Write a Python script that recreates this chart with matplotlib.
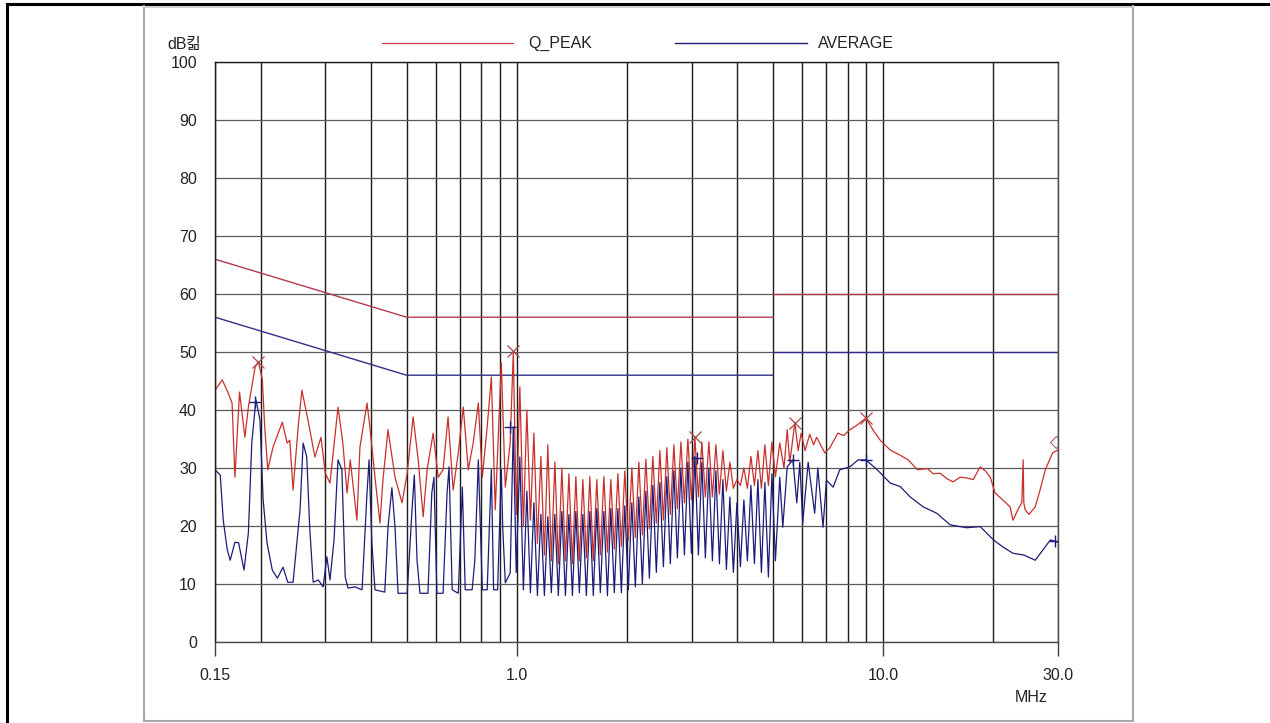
import matplotlib
matplotlib.use('Agg')
import matplotlib.pyplot as plt
from matplotlib.lines import Line2D
from matplotlib.ticker import NullFormatter

# ---- data (MHz / dB) ----
limit_freq = [0.15, 0.5, 5.0, 5.0, 30.0]
qp_limit = [66, 56, 56, 60, 60]
av_limit = [56, 46, 46, 50, 50]

qp_low_freq = [0.150, 0.157, 0.163, 0.167, 0.170, 0.175, 0.181, 0.185, 0.193, 0.197,
               0.202, 0.205, 0.209, 0.216, 0.229, 0.236, 0.240, 0.245, 0.253, 0.259,
               0.269, 0.281, 0.292, 0.300, 0.309, 0.325, 0.335, 0.344, 0.351, 0.366,
               0.373, 0.390, 0.397, 0.410, 0.423, 0.431, 0.445, 0.465, 0.486, 0.502,
               0.521, 0.538, 0.555, 0.569, 0.591, 0.610, 0.629, 0.649, 0.670, 0.692,
               0.714, 0.737, 0.760, 0.785, 0.805, 0.830, 0.852, 0.873, 0.907, 0.930,
               0.959, 0.978, 0.997]
qp_low = [43.4, 45.2, 42.9, 41.2, 28.4, 43.1, 35.3, 40.5, 47.4, 48.3,
          45.2, 37.1, 29.7, 33.6, 37.9, 34.3, 34.8, 26.2, 37.1, 43.4,
          38.3, 31.9, 35.3, 29.1, 27.4, 40.5, 34.3, 25.7, 31.4, 21.0,
          33.6, 41.2, 37.1, 28.4, 20.5, 27.9, 36.6, 28.4, 24.0, 29.1,
          38.8, 31.4, 21.6, 29.7, 36.0, 28.4, 29.7, 38.8, 26.2, 32.6,
          40.5, 29.7, 34.3, 41.2, 28.4, 37.1, 45.7, 22.8, 48.1, 26.7,
          34.3, 50.0, 22.0]

av_low_freq = [0.150, 0.155, 0.158, 0.162, 0.165, 0.170, 0.174, 0.180, 0.185, 0.189,
               0.194, 0.199, 0.203, 0.208, 0.215, 0.222, 0.230, 0.237, 0.245, 0.256,
               0.261, 0.267, 0.272, 0.278, 0.287, 0.296, 0.303, 0.309, 0.317, 0.325,
               0.333, 0.340, 0.346, 0.362, 0.378, 0.390, 0.395, 0.402, 0.410, 0.436,
               0.445, 0.456, 0.465, 0.474, 0.502, 0.518, 0.525, 0.534, 0.544, 0.572,
               0.586, 0.594, 0.605, 0.629, 0.645, 0.653, 0.666, 0.692, 0.710, 0.723,
               0.755, 0.768, 0.785, 0.805, 0.830, 0.852, 0.864, 0.886, 0.907, 0.915,
               0.930, 0.959, 0.978, 0.996]
av_low = [29.7, 28.8, 21.0, 15.9, 14.1, 17.2, 17.1, 12.4, 18.8, 34.3,
          41.8, 38.3, 24.5, 17.1, 12.4, 11.0, 12.9, 10.3, 10.3, 22.8,
          34.3, 31.9, 19.8, 10.3, 10.7, 9.5, 14.7, 10.7, 17.6, 31.4,
          29.7, 11.2, 9.3, 9.5, 9.0, 25.7, 31.4, 17.1, 9.0, 8.6,
          19.8, 26.6, 19.8, 8.4, 8.4, 23.3, 28.8, 14.1, 8.4, 8.4,
          25.7, 28.4, 8.4, 8.4, 25.7, 30.2, 9.0, 8.4, 26.7, 9.0,
          9.0, 14.1, 31.4, 9.0, 9.0, 29.7, 9.0, 9.0, 29.7, 19.8,
          10.2, 11.9, 37.1, 12.0]

comb_freq = [1.019, 1.042, 1.065, 1.089, 1.113, 1.138, 1.163, 1.189, 1.215, 1.242,
             1.270, 1.298, 1.327, 1.357, 1.387, 1.418, 1.449, 1.481, 1.514, 1.548,
             1.582, 1.617, 1.653, 1.690, 1.728, 1.767, 1.805, 1.845, 1.887, 1.929,
             1.971, 2.015, 2.060, 2.106, 2.153, 2.201, 2.250, 2.300, 2.351, 2.403,
             2.457, 2.512, 2.567, 2.624, 2.683, 2.743, 2.804, 2.867, 2.930, 2.995,
             3.062, 3.130, 3.199, 3.270, 3.343, 3.418, 3.494, 3.572, 3.651, 3.732,
             3.815, 3.900, 3.987, 4.076, 4.166, 4.259, 4.354, 4.451, 4.550, 4.651,
             4.754, 4.860, 4.968, 5.079]
qp_comb = [44, 20, 40, 21, 36, 17, 32, 15, 34, 14,
           31, 13.5, 30, 14, 29, 13.5, 28.5, 14, 28, 14.5,
           28.5, 14, 28, 15, 28.5, 15.5, 28, 16, 29, 16.5,
           29.5, 17.5, 30, 18, 31, 18.5, 31.5, 19.5, 32, 20.5,
           33, 21, 33.5, 22, 34, 23, 34.5, 24, 35, 24.5,
           35.3, 25, 34.5, 25, 34.5, 25, 34, 25.5, 33, 26,
           31, 26.5, 28, 27, 30, 26.5, 32, 27, 33, 26.5,
           34, 27, 34.5, 28.5]
av_comb = [31.9, 9, 26, 8.5, 24, 8, 22, 8, 21.6, 8.5,
           22, 8, 22.5, 8, 22, 8, 22.5, 8.5, 22, 8,
           22.5, 8, 23, 8.5, 22.5, 8, 23, 8.5, 23, 8.5,
           23.5, 9, 24, 9.5, 25, 10, 26, 11, 27, 12,
           27.5, 13, 28.5, 13.5, 29.5, 14.5, 30, 15, 31, 15.3,
           32, 15, 31, 14.5, 30, 14, 29.5, 13.5, 28, 12.5,
           25, 12, 24, 13, 24.5, 14, 27, 13.5, 28, 12,
           27.5, 11.2, 29, 14]

qp_high_freq = [5.22, 5.36, 5.47, 5.56, 5.74, 5.86, 5.97, 6.12, 6.30, 6.46,
                6.58, 6.93, 7.15, 7.52, 7.80, 8.11, 8.40, 8.64, 8.97, 9.39,
                9.81, 10.45, 11.13, 11.7, 12.4, 13.2, 13.7, 14.3, 14.9, 15.5,
                16.2, 16.9, 17.6, 18.4, 19.0, 19.6, 20.2, 21.2, 22.2, 22.6,
                23.4, 23.9, 24.1, 24.2, 24.4, 25.0, 26.0, 26.8, 27.7, 29.0, 30.0]
qp_high = [34.3, 30.0, 36.6, 31.0, 37.8, 33.0, 36.0, 33.0, 35.8, 34.0,
           35.3, 32.6, 33.5, 36.0, 35.6, 36.6, 37.2, 37.8, 38.6, 36.5,
           34.8, 33.1, 32.2, 31.4, 29.7, 29.9, 29.0, 29.1, 28.2, 27.6,
           28.4, 28.3, 28.0, 30.2, 29.5, 28.4, 25.7, 24.5, 23.3, 21.0,
           23.0, 24.0, 31.4, 24.0, 22.8, 22.0, 23.3, 26.2, 29.7, 32.6, 33.1]

av_high_freq = [5.22, 5.32, 5.47, 5.67, 5.81, 5.92, 6.03, 6.24, 6.50, 6.63,
                6.85, 7.00, 7.30, 7.61, 8.11, 8.54, 8.97, 9.63, 9.94, 10.45,
                11.13, 11.85, 12.86, 14.0, 15.23, 16.9, 18.4, 20.0, 21.2, 22.6,
                24.2, 26.0, 27.3, 28.6, 30.0]
av_high = [28.4, 19.8, 30.2, 31.4, 24.0, 31.0, 20.5, 31.0, 22.2, 30.0,
           19.8, 27.9, 26.7, 29.7, 30.2, 31.4, 31.4, 29.7, 28.8, 27.4,
           26.8, 25.0, 23.3, 22.2, 20.2, 19.7, 19.9, 17.6, 16.4, 15.3,
           15.0, 14.1, 15.9, 17.6, 17.2]

qp_mark_freq = [0.197, 0.978, 3.06, 5.74, 8.97]
qp_mark = [48.3, 50.2, 35.3, 37.8, 38.6]
qp_end_freq = [29.6]
qp_end = [34.5]
av_mark_freq = [0.193, 0.96, 3.10, 5.67, 8.97, 29.5]
av_mark = [41.4, 37.1, 31.7, 31.4, 31.4, 17.4]

x_major = [0.15, 1.0, 10.0, 30.0]
x_major_labels = ['0.15', '1.0', '10.0', '30.0']
x_minor = [0.2, 0.3, 0.4, 0.5, 0.6, 0.7, 0.8, 0.9,
           2, 3, 4, 5, 6, 7, 8, 9, 20]
y_ticks = list(range(0, 101, 10))

qp_freq = qp_low_freq + comb_freq + qp_high_freq
qp_level = qp_low + qp_comb + qp_high
av_freq = av_low_freq + comb_freq + av_high_freq
av_level = av_low + av_comb + av_high

# ---- figure ----
W, H = 1270, 723
FONT = ['Liberation Sans', 'Noto Sans CJK KR', 'DejaVu Sans']
plt.rcParams['font.family'] = FONT
plt.rcParams['font.size'] = 11.5

RED = '#c8302c'
NAVY = '#1c1c78'
RED_LIM = '#b03c4c'
BLUE_LIM = '#30308a'

fig = plt.figure(figsize=(W / 100, H / 100), dpi=100)
fig.patch.set_facecolor('white')


def fx(px):
    return px / W


def fy(py):
    return 1 - py / H


# outer frame and grey panel
fig.add_artist(Line2D([fx(7), fx(7)], [fy(4), 0], color='black', lw=2.2))
fig.add_artist(Line2D([fx(7), 1], [fy(4), fy(4)], color='black', lw=2.2))
panel = '#a8a8a8'
fig.add_artist(Line2D([fx(144), fx(144)], [fy(6), fy(721)], color=panel, lw=1.5))
fig.add_artist(Line2D([fx(1133), fx(1133)], [fy(6), fy(721)], color=panel, lw=1.5))
fig.add_artist(Line2D([fx(144), fx(1133)], [fy(721), fy(721)], color=panel, lw=1.5))
fig.add_artist(Line2D([fx(144), fx(1133)], [fy(6.5), fy(6.5)], color='#c8c8c8', lw=1.2))

ax = fig.add_axes([fx(215), fy(642), (1058 - 215) / W, (642 - 62) / H])
ax.set_xscale('log')
ax.set_xlim(0.15, 30)
ax.set_ylim(0, 100)

ax.set_xticks(x_major)
ax.set_xticklabels(x_major_labels)
ax.set_xticks(x_minor, minor=True)
ax.xaxis.set_minor_formatter(NullFormatter())
ax.set_yticks(y_ticks)
ax.tick_params(axis='x', which='major', length=10, width=1, color='#404040', pad=9,
               labelsize=11.5, labelcolor='#222222')
ax.tick_params(axis='x', which='minor', length=0)
ax.tick_params(axis='y', length=0, pad=13, labelsize=11.5, labelcolor='#222222')

ax.grid(axis='x', which='both', color='#1a1a1a', lw=1.0)
ax.grid(axis='y', which='major', color='#5a5a5a', lw=0.9)
for side in ['left', 'top']:
    ax.spines[side].set_color('#1a1a1a')
for side in ['right', 'bottom']:
    ax.spines[side].set_color('#4a4a4a')
for s in ax.spines.values():
    s.set_linewidth(1.0)

# limits (step at 5 MHz)
ax.plot(limit_freq[:3], qp_limit[:3], color=RED_LIM, lw=1.0)
ax.plot(limit_freq[3:], qp_limit[3:], color=RED_LIM, lw=1.0)
ax.plot(limit_freq[:3], av_limit[:3], color=BLUE_LIM, lw=1.0)
ax.plot(limit_freq[3:], av_limit[3:], color=BLUE_LIM, lw=1.0)

# traces
ax.plot(qp_freq, qp_level, color=RED, lw=0.9)
ax.plot(av_freq, av_level, color=NAVY, lw=0.9)

# peak markers
ax.plot(qp_mark_freq, qp_mark, ls='none', marker='x', ms=8, mew=0.9, color='#a84848')
ax.plot(qp_end_freq, qp_end, ls='none', marker='D', ms=6, mew=0.8,
        mfc='none', mec='#b06060')
ax.plot(av_mark_freq, av_mark, ls='none', marker='+', ms=9, mew=1.0, color=NAVY)

# unit labels
fig.text(fx(167), fy(44), 'dB킮', ha='left', va='center', size=11.5, color='#222222')
fig.text(fx(1047), fy(697), 'MHz', ha='right', va='center', size=11.5, color='#222222')

# legend
fig.add_artist(Line2D([fx(382), fx(513)], [fy(43), fy(43)], color='#c84858', lw=1.0))
fig.text(fx(528), fy(43), 'Q_PEAK', ha='left', va='center', size=11.5, color='#222222')
fig.add_artist(Line2D([fx(675), fx(807)], [fy(43), fy(43)], color=NAVY, lw=1.0))
fig.text(fx(818), fy(43), 'AVERAGE', ha='left', va='center', size=11.5, color='#222222')

fig.savefig('out.png', dpi=100)
